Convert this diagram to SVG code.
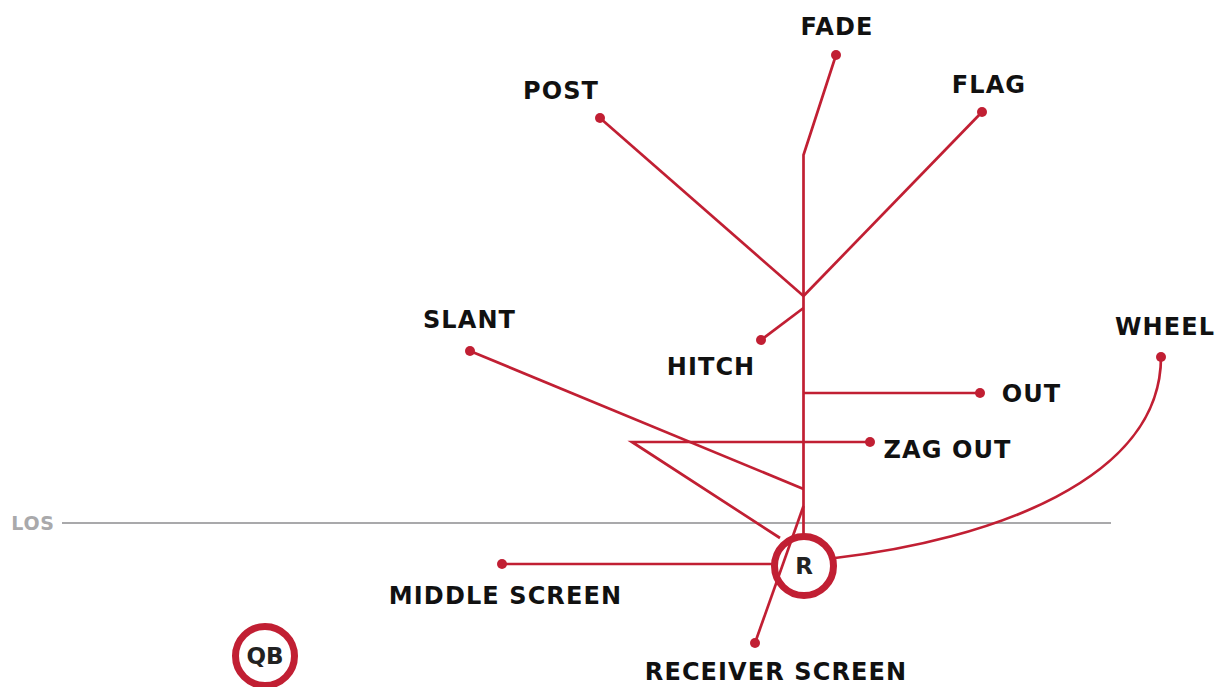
<svg xmlns="http://www.w3.org/2000/svg" width="1218" height="687" viewBox="0 0 1218 687">
<style>
.route{fill:none;stroke:#c11f33;stroke-width:2.7;stroke-linejoin:miter}
.dot{fill:#c11f33}
.lbl{font-family:"DejaVu Sans","Liberation Sans",sans-serif;font-weight:bold;font-size:24px;fill:#111;text-anchor:middle;letter-spacing:1.1px}
.ring{fill:#fff;stroke:#c11f33;stroke-width:7}
.pl{font-family:"DejaVu Sans","Liberation Sans",sans-serif;font-weight:bold;font-size:23px;fill:#222;text-anchor:middle}
</style>
<rect width="1218" height="687" fill="#fff"/>
<g id="los">
<line x1="62" y1="523" x2="1111" y2="523" stroke="#a9a9ab" stroke-width="2"/>
<text x="33" y="530" font-family="DejaVu Sans,Liberation Sans,sans-serif" font-weight="bold" font-size="19" letter-spacing="0.8" fill="#a9a9ab" text-anchor="middle">LOS</text>
</g>
<g id="R">
<circle class="ring" cx="804" cy="566" r="29.500"/>
<text class="pl" x="804" y="574">R</text>
</g>
<g id="QB">
<circle class="ring" cx="265" cy="656" r="29.500"/>
<text class="pl" x="265" y="664">QB</text>
</g>
<g id="connectors">
<polyline class="route" points="836,55 803.5,155 803.5,534"/>
<line class="route" x1="600" y1="118" x2="803.5" y2="296"/>
<line class="route" x1="982" y1="112" x2="803.5" y2="296"/>
<line class="route" x1="761" y1="340" x2="803.5" y2="308"/>
<line class="route" x1="803.5" y1="393" x2="980" y2="393"/>
<polyline class="route" points="870,442 632,442 780,538"/>
<line class="route" x1="470" y1="351" x2="803.5" y2="489"/>
<line class="route" x1="803.5" y1="506" x2="755" y2="643"/>
<line class="route" x1="502" y1="564" x2="773" y2="564"/>
<path class="route" d="M835,558 C990,540 1161,480 1161,357"/>
</g>
<g id="dots">
<circle class="dot" cx="836" cy="55" r="5"/>
<circle class="dot" cx="600" cy="118" r="5"/>
<circle class="dot" cx="982" cy="112" r="5"/>
<circle class="dot" cx="761" cy="340" r="5"/>
<circle class="dot" cx="980" cy="393" r="5"/>
<circle class="dot" cx="870" cy="442" r="5"/>
<circle class="dot" cx="470" cy="351" r="5"/>
<circle class="dot" cx="755" cy="643" r="5"/>
<circle class="dot" cx="502" cy="564" r="5"/>
<circle class="dot" cx="1161" cy="357" r="5"/>
</g>
<g id="labels">
<text class="lbl" x="837" y="35">FADE</text>
<text class="lbl" x="561" y="99">POST</text>
<text class="lbl" x="989" y="93">FLAG</text>
<text class="lbl" x="469.500" y="328">SLANT</text>
<text class="lbl" x="711" y="375">HITCH</text>
<text class="lbl" x="1165" y="335">WHEEL</text>
<text class="lbl" x="1031.500" y="402">OUT</text>
<text class="lbl" x="947.500" y="458">ZAG OUT</text>
<text class="lbl" x="505.500" y="604">MIDDLE SCREEN</text>
<text class="lbl" x="776" y="680">RECEIVER SCREEN</text>
</g>
</svg>
